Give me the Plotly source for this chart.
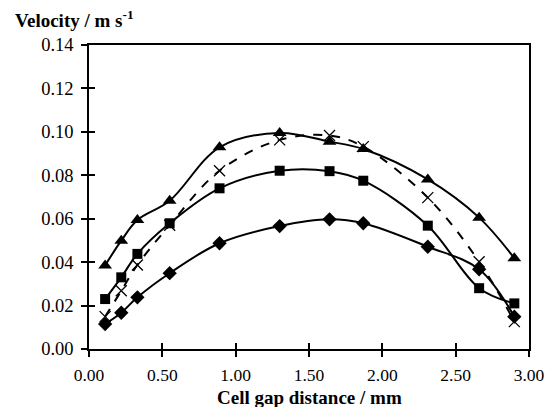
import plotly.graph_objects as go

gap_mm = [0.11, 0.22, 0.33, 0.55, 0.89, 1.30, 1.64, 1.87, 2.31, 2.66, 2.90]

v_diamond = [0.0115, 0.0167, 0.0238, 0.0349, 0.0487, 0.0566, 0.0597, 0.0579, 0.0471, 0.0367, 0.0149]
v_square = [0.0230, 0.0330, 0.0438, 0.0579, 0.0740, 0.0821, 0.0819, 0.0775, 0.0568, 0.0280, 0.0210]
v_triangle = [0.0385, 0.0499, 0.0594, 0.0683, 0.0929, 0.0995, 0.0955, 0.0921, 0.0781, 0.0605, 0.0418]
v_cross = [0.0149, 0.0268, 0.0387, 0.0570, 0.0821, 0.0963, 0.0983, 0.0932, 0.0697, 0.0402, 0.0126]

x_ticks = [0.0, 0.5, 1.0, 1.5, 2.0, 2.5, 3.0]
y_ticks = [0.00, 0.02, 0.04, 0.06, 0.08, 0.10, 0.12, 0.14]

FONT = "Liberation Serif, Times New Roman, Times, DejaVu Serif, serif"

fig = go.Figure()

def add_series(y, symbol, size, dash="solid", mline=0):
    fig.add_trace(go.Scatter(
        x=gap_mm, y=y, mode="lines+markers",
        line=dict(color="black", width=2, shape="spline", smoothing=1, dash=dash),
        marker=dict(symbol=symbol, size=size, color="black",
                    line=dict(color="black", width=mline)),
        showlegend=False,
    ))

add_series(v_diamond, "diamond", 11)
add_series(v_square, "square", 10)
add_series(v_triangle, "triangle-up", 12)
add_series(v_cross, "x-thin", 11, dash="dash", mline=1.3)

fig.update_layout(
    width=554, height=407,
    margin=dict(l=89, r=25, t=45, b=58),
    paper_bgcolor="white", plot_bgcolor="white",
    font=dict(family=FONT, color="black"),
    xaxis=dict(range=[0, 3], tickvals=x_ticks, ticktext=[f"{v:.2f}" for v in x_ticks],
               showgrid=False, zeroline=False, showline=True, linecolor="black",
               linewidth=1.6, mirror=True, ticks="outside", ticklen=6, tickwidth=1.5,
               tickcolor="black", tickfont=dict(family=FONT, size=17.5, color="black"),
               ticklabelstandoff=3, automargin=False),
    yaxis=dict(range=[0, 0.14], tickvals=y_ticks, ticktext=[f"{v:.2f}" for v in y_ticks],
               showgrid=False, zeroline=False, showline=True, linecolor="black",
               linewidth=1.6, mirror=True, ticks="outside", ticklen=6, tickwidth=1.5,
               tickcolor="black", tickfont=dict(family=FONT, size=18.5, color="black"),
               ticklabelstandoff=4, automargin=False),
    xaxis2=dict(range=[0, 3], tickvals=x_ticks, overlaying="x", side="bottom",
                showticklabels=False, showgrid=False, zeroline=False, showline=False,
                ticks="inside", ticklen=6, tickwidth=1.5, tickcolor="black"),
    yaxis2=dict(range=[0, 0.14], tickvals=y_ticks, overlaying="y", side="left",
                showticklabels=False, showgrid=False, zeroline=False, showline=False,
                ticks="inside", ticklen=6, tickwidth=1.5, tickcolor="black"),
    annotations=[
        dict(text="<b>Velocity / m s<sup>-1</sup></b>", xref="paper", yref="paper",
             x=-0.1727, y=1.0855, xanchor="left", yanchor="middle", showarrow=False,
             font=dict(family=FONT, size=19, color="black")),
        dict(text="<b>Cell gap distance / mm</b>", xref="paper", yref="paper",
             x=0.5, y=-0.161, xanchor="center", yanchor="middle", showarrow=False,
             font=dict(family=FONT, size=19, color="black")),
    ],
)

fig.add_trace(go.Scatter(x=[None], y=[None], xaxis="x2", yaxis="y2", showlegend=False,
                         hoverinfo="skip"))

fig.write_html("out.html", config={"displayModeBar": False},
               post_script="document.body.style.margin='0';document.body.style.padding='0';")
